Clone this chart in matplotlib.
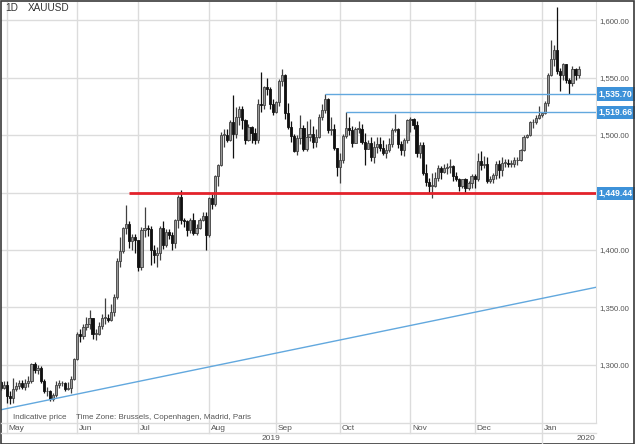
import pandas as pd
import numpy as np
import matplotlib
matplotlib.use('Agg')
import matplotlib.pyplot as plt
from matplotlib.lines import Line2D
from matplotlib.patches import Rectangle
from matplotlib.transforms import blended_transform_factory

plt.rcParams['font.family'] = ['Liberation Sans', 'DejaVu Sans']

# daily XAUUSD candles, 29 Apr 2019 .. 17 Jan 2020 (weekdays), one line per month
opens = [
    1285, 1280,
    1283, 1273, 1271, 1279, 1282, 1284, 1281, 1284, 1286, 1301, 1296, 1297, 1286, 1277, 1277, 1270, 1274, 1283, 1284, 1284, 1279, 1280, 1288,
    1305, 1327, 1325, 1333, 1336, 1341, 1327, 1327, 1334, 1341, 1341, 1339, 1346, 1359, 1390, 1399, 1419, 1423, 1408, 1411,
    1409, 1385, 1417, 1419, 1418, 1400, 1396, 1397, 1419, 1404, 1416, 1413, 1406, 1426, 1446, 1426, 1425, 1417, 1426, 1415, 1419, 1426, 1430,
    1413, 1445, 1440, 1464, 1474, 1500, 1500, 1496, 1511, 1501, 1516, 1523, 1513, 1496, 1507, 1502, 1496, 1527, 1526, 1542, 1540, 1527,
    1520, 1529, 1547, 1552, 1519, 1507, 1499, 1486, 1497, 1506, 1488, 1498, 1501, 1494, 1498, 1516, 1522, 1531, 1504, 1505, 1489,
    1472, 1478, 1499, 1506, 1504, 1493, 1505, 1505, 1494, 1488, 1493, 1481, 1490, 1492, 1489, 1484, 1487, 1492, 1504, 1505, 1492, 1487, 1496,
    1513, 1514, 1509, 1484, 1491, 1467, 1459, 1456, 1456, 1463, 1471, 1468, 1471, 1472, 1473, 1464, 1462, 1456, 1462, 1454, 1458,
    1464, 1462, 1477, 1474, 1475, 1460, 1462, 1465, 1475, 1470, 1476, 1476, 1475, 1475, 1478, 1478, 1487, 1498, 1500, 1511, 1511, 1515,
    1517, 1519, 1528, 1552, 1566, 1574, 1556, 1552, 1562, 1548, 1545, 1557, 1552,
]
highs = [
    1286, 1286,
    1286, 1277, 1289, 1285, 1287, 1287, 1288, 1290, 1302, 1303, 1300, 1299, 1288, 1281, 1278, 1276, 1286, 1287, 1286, 1285, 1285, 1290, 1306,
    1329, 1331, 1336, 1342, 1348, 1341, 1331, 1337, 1344, 1358, 1344, 1353, 1362, 1393, 1411, 1420, 1439, 1425, 1414, 1414,
    1409, 1420, 1437, 1422, 1421, 1404, 1403, 1421, 1425, 1418, 1418, 1416, 1427, 1448, 1452, 1428, 1426, 1428, 1432, 1423, 1428, 1433, 1433,
    1446, 1449, 1465, 1475, 1503, 1505, 1505, 1513, 1535, 1524, 1525, 1525, 1514, 1510, 1508, 1506, 1531, 1555, 1543, 1550, 1542, 1531,
    1530, 1549, 1557, 1553, 1528, 1512, 1501, 1500, 1517, 1509, 1512, 1514, 1508, 1505, 1518, 1527, 1535.7, 1532, 1516, 1510, 1489,
    1484, 1501, 1519.66, 1516, 1508, 1507, 1512, 1510, 1502, 1496, 1498, 1495, 1498, 1498, 1496, 1492, 1497, 1506, 1518, 1506, 1495, 1497, 1514,
    1516, 1515, 1512, 1494, 1494, 1475, 1463, 1467, 1468, 1474, 1473, 1475, 1476, 1479, 1474, 1468, 1463, 1462, 1463, 1460, 1466,
    1466, 1484, 1486, 1482, 1481, 1464, 1467, 1477, 1478, 1481, 1479, 1479, 1478, 1481, 1481, 1488, 1500, 1501, 1512, 1514, 1517, 1525,
    1520, 1530, 1554, 1583, 1578, 1611, 1558, 1563, 1562, 1550, 1560, 1558, 1560,
]
lows = [
    1278, 1279,
    1267, 1266, 1267, 1277, 1279, 1279, 1278, 1281, 1284, 1293, 1292, 1284, 1276, 1273, 1269, 1269, 1272, 1280, 1282, 1277, 1278, 1276, 1287,
    1304, 1320, 1323, 1330, 1331, 1323, 1322, 1326, 1331, 1336, 1337, 1338, 1343, 1357, 1385, 1397, 1414, 1402, 1400, 1397,
    1382, 1383, 1411, 1412, 1387, 1389, 1385, 1391, 1401, 1403, 1410, 1400, 1402, 1419, 1423, 1420, 1412, 1415, 1413, 1413, 1418, 1425, 1400,
    1411, 1436, 1438, 1456, 1473, 1490, 1494, 1495, 1480, 1497, 1509, 1505, 1492, 1495, 1493, 1492, 1493, 1520, 1523, 1535, 1523, 1517,
    1519, 1525, 1543, 1514, 1505, 1494, 1485, 1483, 1492, 1486, 1486, 1495, 1489, 1490, 1497, 1513, 1519, 1502, 1500, 1487, 1464,
    1458, 1476, 1497, 1500, 1490, 1493, 1502, 1492, 1474, 1488, 1477, 1476, 1484, 1486, 1483, 1480, 1485, 1490, 1503, 1489, 1483, 1482, 1493,
    1503, 1505, 1481, 1480, 1465, 1456, 1450, 1445, 1455, 1460, 1462, 1467, 1466, 1467, 1460, 1460, 1451, 1454, 1450, 1452, 1454,
    1454, 1460, 1470, 1471, 1458, 1458, 1458, 1462, 1463, 1464, 1472, 1472, 1472, 1472, 1474, 1477, 1486, 1497, 1499, 1506, 1510, 1514,
    1516, 1518, 1525, 1551, 1560, 1553, 1538, 1548, 1545, 1536, 1543, 1548, 1550,
]
closes = [
    1280, 1283,
    1273, 1271, 1279, 1282, 1284, 1281, 1284, 1286, 1301, 1296, 1297, 1286, 1277, 1277, 1270, 1274, 1283, 1284, 1284, 1279, 1280, 1288, 1305,
    1327, 1325, 1333, 1336, 1341, 1327, 1327, 1334, 1341, 1341, 1339, 1346, 1359, 1390, 1399, 1419, 1423, 1408, 1411, 1409,
    1385, 1417, 1419, 1418, 1400, 1396, 1397, 1419, 1404, 1416, 1413, 1406, 1426, 1446, 1426, 1425, 1417, 1426, 1415, 1419, 1426, 1430, 1413,
    1445, 1440, 1464, 1474, 1500, 1500, 1496, 1511, 1501, 1516, 1523, 1513, 1496, 1507, 1502, 1496, 1527, 1526, 1542, 1540, 1527, 1520,
    1529, 1547, 1552, 1519, 1507, 1499, 1486, 1497, 1506, 1488, 1498, 1501, 1494, 1498, 1516, 1522, 1531, 1504, 1505, 1489, 1472,
    1478, 1499, 1506, 1504, 1493, 1505, 1505, 1494, 1488, 1493, 1481, 1490, 1492, 1489, 1484, 1487, 1492, 1504, 1505, 1492, 1487, 1496, 1513,
    1514, 1509, 1484, 1491, 1467, 1459, 1456, 1456, 1463, 1471, 1468, 1471, 1472, 1473, 1464, 1462, 1456, 1462, 1454, 1458, 1464,
    1462, 1477, 1474, 1475, 1460, 1462, 1465, 1475, 1470, 1476, 1476, 1475, 1475, 1478, 1478, 1487, 1498, 1500, 1511, 1511, 1515, 1517,
    1519, 1528, 1552, 1566, 1574, 1556, 1552, 1562, 1548, 1545, 1557, 1552, 1557,
]

levels = [1535.70, 1519.66]
level_starts = ['2019-09-24', '2019-10-03']
support = 1449.44
support_start = '2019-06-26'
trend_points = [('2019-05-21', 1269.8), ('2020-01-16', 1363.9)]

price_ticks = [1300, 1350, 1400, 1450, 1500, 1550, 1600]
month_names = ['May', 'Jun', 'Jul', 'Aug', 'Sep', 'Oct', 'Nov', 'Dec', 'Jan']

COLORS = {
    'up_body': '#999999',
    'up_edge': '#404040',
    'down': '#101010',
    'grid': '#dcdcdc',
    'blue': '#62a8de',
    'box': '#3d92d9',
    'red': '#e3222b',
    'text': '#555555',
}

W, H = 635, 444


def fx(px):
    return px / W


def fy(py):
    return 1 - py / H


dates = pd.bdate_range('2019-04-29', '2020-01-17')
idx = {d.strftime('%Y-%m-%d'): i for i, d in enumerate(dates)}
x = np.arange(len(dates))

fig = plt.figure(figsize=(W / 100, H / 100), dpi=100)
ax = fig.add_axes([fx(1), 1 - 422 / H, fx(595), 420 / H])
xmin, xmax = 0.037, 194.7
ax.set_xlim(xmin, xmax)
ax.set_ylim(1250.4, 1615.7)

# grid
for p in price_ticks:
    ax.axhline(p, color=COLORS['grid'], lw=1, zorder=0)
month_starts = [i for i in range(1, len(dates)) if dates[i].month != dates[i - 1].month]
for m in month_starts:
    ax.axvline(m, color=COLORS['grid'], lw=1, zorder=0)

# candles
for i in x:
    o, h, l, c = opens[i], highs[i], lows[i], closes[i]
    up = c >= o
    wick = COLORS['up_edge'] if up else COLORS['down']
    ax.vlines(i, l, h, color=wick, lw=0.9, zorder=2)
    ax.bar(i, max(abs(c - o), 0.7), bottom=min(o, c), width=0.72,
           color=COLORS['up_body'] if up else COLORS['down'],
           edgecolor=COLORS['up_edge'] if up else COLORS['down'], lw=0.6, zorder=3)

# drawn levels
for lv, st in zip(levels, level_starts):
    ax.plot([idx[st], xmax], [lv, lv], color=COLORS['blue'], lw=1, zorder=4, solid_capstyle='butt')
ax.plot([idx[support_start], xmax], [support, support], color=COLORS['red'], lw=2, zorder=4, solid_capstyle='butt')
(d1, v1), (d2, v2) = trend_points
ax.axline((idx[d1], v1), (idx[d2], v2), color=COLORS['blue'], lw=1, zorder=4)

# right price axis
ax.yaxis.tick_right()
ax.set_yticks(price_ticks)
ax.set_yticklabels(['' if p == 1450 else f'{p:,.2f}' for p in price_ticks])
ax.tick_params(axis='y', length=0, pad=2.5, labelsize=5.6, labelcolor=COLORS['text'])
ax.set_xticks([])
for s in ['top', 'left', 'bottom']:
    ax.spines[s].set_visible(False)
ax.spines['right'].set_color(COLORS['grid'])

tr = blended_transform_factory(ax.transAxes, ax.transData)
for lv in levels + [support]:
    ax.text(1.005, lv, f'{lv:,.2f}', transform=tr, ha='left', va='center', fontsize=6.2,
            fontweight='bold', color='white', clip_on=False,
            bbox=dict(boxstyle='square,pad=0.25', fc=COLORS['box'], ec='none'))

# time axis band under the plot
band = blended_transform_factory(ax.transData, fig.transFigure)
for yy in [423, 433]:
    fig.add_artist(Line2D([fx(1), fx(596)], [fy(yy), fy(yy)], color=COLORS['grid'], lw=1))
for m, name in zip(month_starts, month_names):
    bottom = 443 if name == 'Jan' else 433
    fig.add_artist(Line2D([m, m], [fy(422), fy(bottom)], transform=band, color=COLORS['grid'], lw=1))
    fig.text(m + 0.6, fy(428.5), name, transform=band, fontsize=6, color=COLORS['text'], va='center', ha='left')
jan = month_starts[-1]
fig.text((xmin + jan) / 2, fy(438.5), '2019', transform=band, fontsize=6, color=COLORS['text'], va='center', ha='center')
fig.text(xmax - 0.3, fy(438.5), '2020', transform=band, fontsize=6, color=COLORS['text'], va='center', ha='right')

# labels
fig.text(fx(5), fy(8), '1D', fontsize=7.2, color='#333333', va='center')
fig.text(fx(28), fy(8), 'XAUUSD', fontsize=7.2, color='#333333', va='center')
fig.text(fx(13), fy(417), 'Indicative price', fontsize=5.8, color=COLORS['text'], va='center')
fig.text(fx(76), fy(417), 'Time Zone: Brussels, Copenhagen, Madrid, Paris', fontsize=5.8, color=COLORS['text'], va='center')

fig.add_artist(Rectangle((0.5 / W, 0.5 / H), 1 - 1.5 / W, 1 - 1.5 / H, transform=fig.transFigure,
                         fill=False, edgecolor='#3a3a3a', lw=1.2))

fig.savefig('out.png', dpi=100)
